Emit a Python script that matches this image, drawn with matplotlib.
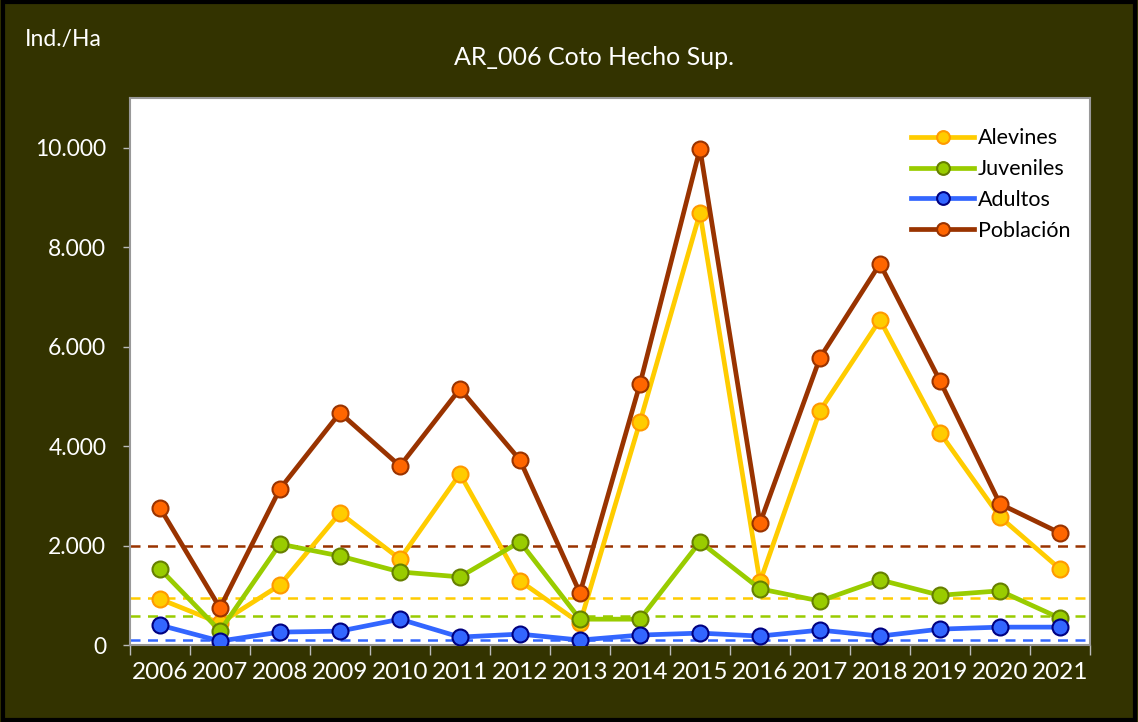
"""Densidad de trucha por clase de edad, estación AR_006 Coto Hecho Sup."""

import matplotlib
matplotlib.use('Agg')
import matplotlib.pyplot as plt
from matplotlib.ticker import FuncFormatter, FixedLocator

# Datos (Ind./Ha)
years = ['2006', '2007', '2008', '2009', '2010', '2011', '2012', '2013',
         '2014', '2015', '2016', '2017', '2018', '2019', '2020', '2021']
alevines = [925, 440, 1207, 2655, 1730, 3440, 1288, 440,
            4487, 8690, 1268, 4710, 6540, 4266, 2575, 1530]
juveniles = [1530, 285, 2030, 1790, 1470, 1370, 2075, 520,
             520, 2075, 1130, 885, 1310, 1000, 1090, 540]
adultos = [400, 80, 260, 280, 520, 160, 220, 100,
           200, 240, 180, 300, 180, 320, 360, 360]
poblacion = [2757, 745, 3140, 4670, 3600, 5150, 3720, 1046,
             5250, 9980, 2450, 5775, 7666, 5312, 2837, 2253]

# Valores de referencia (líneas discontinuas)
ref_alevines = 945
ref_juveniles = 580
ref_adultos = 100
ref_poblacion = 2000

BG = '#333300'

plt.rcParams['font.family'] = ['Lato', 'DejaVu Sans']

fig = plt.figure(figsize=(11.38, 7.22), dpi=100, facecolor=BG)
ax = fig.add_axes([0.1142, 0.1066, 0.8436, 0.7577])
ax.set_facecolor('white')

x = list(range(len(years)))

series = [
    ('Alevines', alevines, '#FFCC00', '#FFCC00', '#FF9900'),
    ('Juveniles', juveniles, '#99CC00', '#99CC00', '#667F00'),
    ('Adultos', adultos, '#3366FF', '#3366FF', '#000080'),
    ('Población', poblacion, '#993300', '#FF6600', '#993300'),
]
refs = [ref_alevines, ref_juveniles, ref_adultos, ref_poblacion]

# reference lines first
for (name, vals, lc, fc, ec), ref in zip(series, refs):
    ax.axhline(ref, color=lc, lw=1.8, ls=(0, (4, 3)), zorder=1)

for name, vals, lc, fc, ec in series:
    ax.plot(x, vals, color=lc, lw=3.4, marker='o', markersize=11.5,
            markerfacecolor=fc, markeredgecolor=ec, markeredgewidth=1.5,
            label=name, zorder=3)

ax.set_xlim(-0.5, len(years) - 0.5)
ax.set_ylim(0, 11000)

ax.set_xticks(x)
ax.set_xticklabels(years)
ax.xaxis.set_minor_locator(FixedLocator([i - 0.5 for i in range(len(years) + 1)]))
ax.tick_params(axis='x', which='major', length=0, pad=12, colors='white',
               labelsize=17.5)
ax.tick_params(axis='x', which='minor', length=7, color='#BBBBBB', width=1)

ax.set_yticks(range(0, 10001, 2000))
ax.yaxis.set_major_formatter(
    FuncFormatter(lambda v, p: f'{int(v):,}'.replace(',', '.')))
ax.tick_params(axis='y', length=5, color='#BBBBBB', width=1, pad=12,
               labelcolor='white', labelsize=16.5)

for side in ['left', 'bottom', 'top', 'right']:
    ax.spines[side].set_color('#999999')
    ax.spines[side].set_linewidth(1.5)

leg = ax.legend(loc='upper right', bbox_to_anchor=(1.0, 0.98),
                frameon=False, fontsize=15.5, handlelength=2.9,
                handletextpad=0.2, labelspacing=0.5, markerscale=0.8)

fig.text(0.522, 0.921, 'AR_006 Coto Hecho Sup.', color='white',
         fontsize=18, ha='center', va='center')
fig.text(0.022, 0.945, 'Ind./Ha', color='white', fontsize=16.5,
         ha='left', va='center')

# marco exterior
fig.patches.append(plt.Rectangle((0.003, 0.003), 0.994, 0.994,
                                 transform=fig.transFigure, fill=False,
                                 edgecolor='black', lw=3))

fig.savefig('out.png', dpi=100, facecolor=BG)
